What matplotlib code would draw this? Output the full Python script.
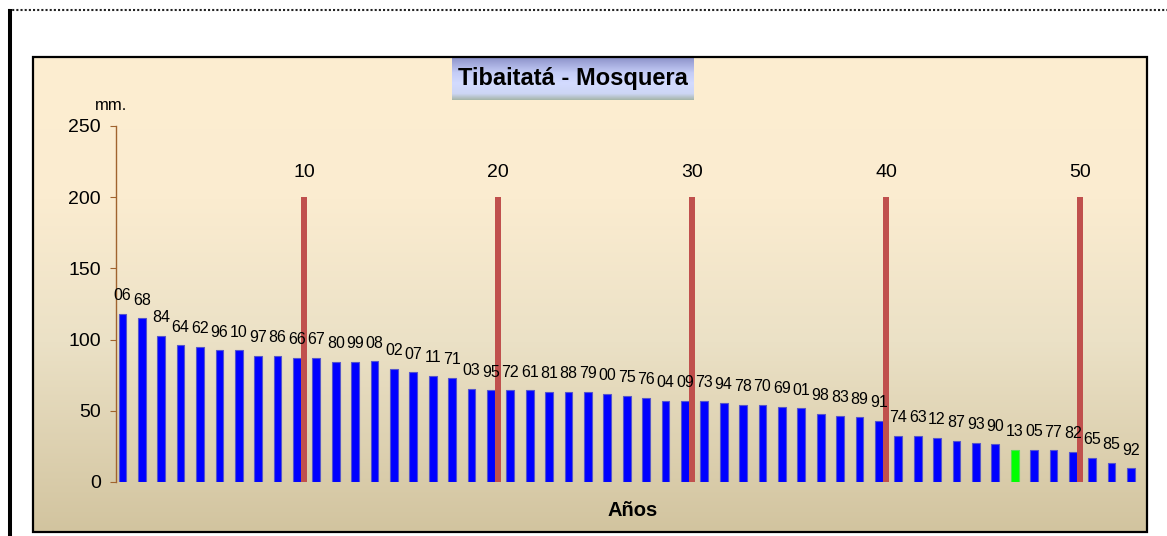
import numpy as np
import matplotlib
matplotlib.use("Agg")
import matplotlib.pyplot as plt
from matplotlib.patches import Rectangle
from matplotlib.colors import LinearSegmentedColormap

plt.rcParams['font.family'] = ['Liberation Sans', 'DejaVu Sans']

# --- data ---
year_labels = ["06", "68", "84", "64", "62", "96", "10", "97", "86", "66",
               "67", "80", "99", "08", "02", "07", "11", "71", "03", "95",
               "72", "61", "81", "88", "79", "00", "75", "76", "04", "09",
               "73", "94", "78", "70", "69", "01", "98", "83", "89", "91",
               "74", "63", "12", "87", "93", "90", "13", "05", "77", "82",
               "65", "85", "92"]
rain_mm = [118, 115, 102.5, 96, 95, 92.5, 92.5, 88.5, 88.5, 87.3,
           87.3, 84.5, 84.5, 84.7, 79.6, 77, 74.7, 73.3, 65.5, 64.4,
           64.4, 64.4, 63.2, 63.2, 63.2, 61.8, 60.6, 59.2, 57, 56.9,
           56.9, 55.5, 54.3, 54.3, 52.9, 51.7, 47.8, 46.6, 45.4, 42.8,
           32.6, 32.6, 31.2, 28.8, 27.4, 26.5, 22.5, 22.5, 22.3, 21.1,
           17.1, 13.6, 9.6]
highlight_year = "13"
marker_pos = [10, 20, 30, 40, 50]
marker_val = [200, 200, 200, 200, 200]
yticks = [0, 50, 100, 150, 200, 250]

W, H = 1167, 536
fig = plt.figure(figsize=(W / 100, H / 100), dpi=100)

# --- background layer in pixel coords ---
bg = fig.add_axes([0, 0, 1, 1], zorder=0)
bg.set_xlim(0, W)
bg.set_ylim(H, 0)
bg.axis("off")

# chart area gradient
chart_cmap = LinearSegmentedColormap.from_list(
    "chart", [(0.0, "#fdeed1"), (0.3, "#fbecd0"), (0.6, "#ebe1c6"), (1.0, "#d2c49f")])
grad = np.linspace(0, 1, 256).reshape(-1, 1)
bg.imshow(grad, cmap=chart_cmap, aspect="auto", extent=[33, 1147, 532, 57], zorder=0)
bg.add_patch(Rectangle((33, 57), 1114, 475, fill=False, edgecolor="black", lw=1.6, zorder=2))

# dotted line at top and thick black line on the left
bg.plot([8, W], [10, 10], color="#222222", lw=1.5, linestyle=(0, (1, 1)), zorder=3)
bg.plot([10.3, 10.3], [11, H], color="black", lw=2.9, zorder=3)

# title box with gradient
title_cmap = LinearSegmentedColormap.from_list(
    "title", [(0.0, "#8f95cc"), (0.35, "#c4ccf6"), (0.6, "#d3dbff"), (0.85, "#cdd6f4"), (1.0, "#a5b5a8")])
bg.imshow(grad, cmap=title_cmap, aspect="auto", extent=[452, 694, 100, 58], zorder=1)
bg.text(573, 79, "Tibaitatá - Mosquera", fontsize=17, fontweight="bold",
        ha="center", va="center", zorder=4)

bg.text(111, 106, "mm.", fontsize=12, ha="center", va="center", zorder=4)
bg.text(633, 511, "Años", fontsize=14.5, fontweight="bold", ha="center", va="center", zorder=4)

# --- main plot ---
ax = fig.add_axes([116 / W, (H - 482) / H, (1144 - 116) / W, (482 - 126) / H], zorder=1)
ax.set_facecolor("none")
x = np.arange(1, len(rain_mm) + 1)
colors = ["#00ff00" if y == highlight_year else "#0000ff" for y in year_labels]
edges = ["#55dd55" if y == highlight_year else "#5555cc" for y in year_labels]
ax.bar(x - 0.17, rain_mm, width=0.40, color=colors, edgecolor=edges, linewidth=0.8, zorder=2)
ax.bar(np.array(marker_pos) + 0.2, marker_val, width=0.31, color="#c0504d", zorder=3)

for xi, v, lab in zip(x, rain_mm, year_labels):
    ax.annotate(lab, (xi - 0.17, v), xytext=(0, 13), textcoords="offset points",
                ha="center", va="center", fontsize=11.5, zorder=4)
for p, v in zip(marker_pos, marker_val):
    ax.annotate(str(p), (p + 0.2, v), xytext=(0, 18), textcoords="offset points",
                ha="center", va="center", fontsize=14, zorder=4)

ax.set_xlim(0.5, len(rain_mm) + 0.5)
ax.set_ylim(0, 250)
ax.set_yticks(yticks)
ax.set_xticks([])
for s in ["top", "right", "bottom"]:
    ax.spines[s].set_visible(False)
ax.spines["left"].set_color("#a0632e")
ax.spines["left"].set_linewidth(1)
ax.tick_params(axis="y", direction="out", length=4, color="#a0632e", labelsize=14, pad=7)

fig.savefig("out.png", dpi=100)
